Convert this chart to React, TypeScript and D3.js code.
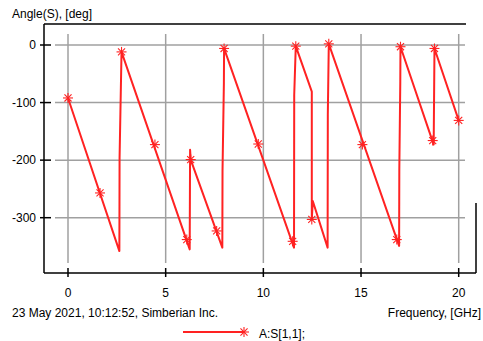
import React from "react";
import * as d3 from "d3";

// Line vertices: frequency (GHz) and angle (deg)
const freq = [0, 2.63, 2.64, 2.74, 6.23, 6.25, 6.28, 7.9, 7.91, 7.98, 7.99, 11.57, 11.58, 11.66, 12.48, 12.48, 12.53, 13.29, 13.3, 13.35, 16.95, 16.96, 17.01, 17.02, 18.72, 18.76, 20.0];
const angle = [-92, -358, -196, -12, -355, -182, -199, -352, -219, -66, -6, -352, -87, -2, -81, -303, -271, -352, -121, 2, -349, -217, -64, -3, -173, -6, -131];

// Marker positions
const markerFreq = [0, 1.64, 2.74, 4.45, 6.08, 6.28, 7.61, 7.99, 9.74, 11.5, 11.66, 12.48, 13.35, 15.07, 16.83, 17.02, 18.67, 18.76, 20.0];
const markerAngle = [-92, -257, -12, -173, -338, -199, -323, -6, -172, -341, -2, -303, 2, -173, -338, -3, -166, -6, -131];

const xTicks = [0, 5, 10, 15, 20];
const yTicks = [0, -100, -200, -300];

const RED = "#ff2222";
const FONT = "'Liberation Sans', Arial, sans-serif";

function Asterisk({ cx, cy, r = 5 }: { cx: number; cy: number; r?: number }) {
  const d = r * Math.SQRT1_2;
  return (
    <g stroke={RED} strokeWidth={1.1}>
      <line x1={cx - r} y1={cy} x2={cx + r} y2={cy} />
      <line x1={cx} y1={cy - r} x2={cx} y2={cy + r} />
      <line x1={cx - d} y1={cy - d} x2={cx + d} y2={cy + d} />
      <line x1={cx - d} y1={cy + d} x2={cx + d} y2={cy - d} />
    </g>
  );
}

export default function App() {
  const W = 483, H = 341;
  const x = d3.scaleLinear().domain([0, 20]).range([68, 458.7]);
  const y = d3.scaleLinear().domain([0, -300]).range([45, 217.7]);
  const pts = freq.map((f, i) => [f, angle[i]] as [number, number]);
  const line = d3.line<[number, number]>().x(d => x(d[0])).y(d => y(d[1]));

  return (
    <svg width={W} height={H} style={{ position: "absolute", left: 0, top: 0, background: "#fff" }} fontFamily={FONT} fontSize={12}>
      <rect width={W} height={H} fill="#fff" />
      {/* grid */}
      {xTicks.map(t => (
        <line key={"gx" + t} x1={x(t)} x2={x(t)} y1={34} y2={263} stroke="#a0a0a0" strokeWidth={1.5} />
      ))}
      {yTicks.map(t => (
        <line key={"gy" + t} x1={55} x2={465} y1={y(t)} y2={y(t)} stroke="#a0a0a0" strokeWidth={1.5} />
      ))}
      {/* frame */}
      <g stroke="#000" strokeWidth={1.5} fill="none">
        <line x1={44} x2={466} y1={24} y2={24} />
        <line x1={44} x2={44} y1={24} y2={273} />
        <line x1={44} x2={476} y1={273} y2={273} />
        <line x1={476} x2={476} y1={203} y2={273} />
      </g>
      {/* ticks */}
      {yTicks.map(t => (
        <g key={"ty" + t}>
          <line x1={40} x2={51} y1={y(t)} y2={y(t)} stroke="#000" strokeWidth={1.5} />
          <text x={36} y={y(t) + 4} textAnchor="end" fill="#000">{t}</text>
        </g>
      ))}
      {xTicks.map(t => (
        <g key={"tx" + t}>
          <line x1={x(t)} x2={x(t)} y1={268} y2={277} stroke="#000" strokeWidth={1.5} />
          <text x={x(t)} y={297} textAnchor="middle" fill="#000">{t}</text>
        </g>
      ))}
      {/* data */}
      <path d={line(pts) || ""} fill="none" stroke={RED} strokeWidth={2} strokeLinejoin="round" />
      {markerFreq.map((f, i) => (
        <Asterisk key={"m" + i} cx={x(f)} cy={y(markerAngle[i])} />
      ))}
      {/* labels */}
      <text x={12} y={18} fill="#000">Angle(S), [deg]</text>
      <text x={12} y={317} fill="#000">23 May 2021, 10:12:52, Simberian Inc.</text>
      <text x={481} y={317} textAnchor="end" fill="#000">Frequency, [GHz]</text>
      {/* legend */}
      <line x1={183} x2={244} y1={332} y2={332} stroke={RED} strokeWidth={2} />
      <Asterisk cx={244} cy={332} />
      <text x={259} y={338} fill="#000">A:S[1,1];</text>
    </svg>
  );
}
